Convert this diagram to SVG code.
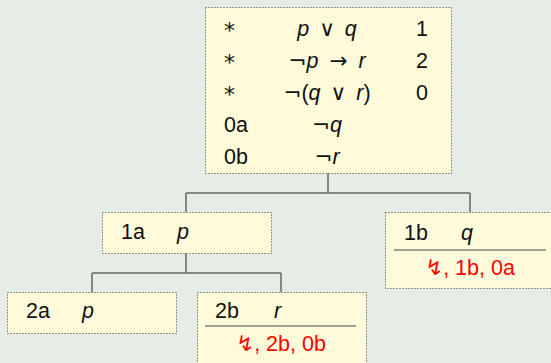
<svg xmlns="http://www.w3.org/2000/svg" width="551" height="363" viewBox="0 0 551 363">
<style>
.bg{fill:#e5ede6}
.box{fill:#fefbdb;stroke:#333;stroke-width:1;stroke-dasharray:1 2}
.t{font-family:"Liberation Sans","DejaVu Sans",sans-serif;font-size:21.5px;fill:#111}
.m{text-anchor:middle}
.i{font-style:italic}
.op{font-family:"DejaVu Sans",sans-serif}
.ast{font-family:"DejaVu Sans",sans-serif;font-size:22px}
.red{fill:#ff0000}
.conn{fill:none;stroke:#666;stroke-width:1.5}
.rule{stroke:#444;stroke-width:1.2}
</style>
<rect class="bg" x="0" y="0" width="551" height="363"/>
<g id="connectors">
<path class="conn" d="M328,173 V193 M186,193 H470 M186,193 V212 M470,193 V212"/>
<path class="conn" d="M186,253 V273 M92,273 H281 M92,273 V292 M281,273 V292"/>
</g>
<g id="root">
<rect class="box" x="205.5" y="7.5" width="246" height="166"/>
<text class="t ast" x="224" y="38">*</text>
<text class="t m" x="327" y="36"><tspan class="i">p</tspan> <tspan class="op" dx="4">∨</tspan> <tspan class="i" dx="4">q</tspan></text>
<text class="t" x="416" y="36">1</text>
<text class="t ast" x="224" y="70">*</text>
<text class="t m" x="327" y="68"><tspan class="op">¬</tspan><tspan class="i">p</tspan> <tspan class="op" dx="5">→</tspan> <tspan class="i" dx="5">r</tspan></text>
<text class="t" x="416" y="68">2</text>
<text class="t ast" x="224" y="102">*</text>
<text class="t m" x="327" y="100"><tspan class="op">¬</tspan>(<tspan class="i">q</tspan> <tspan class="op" dx="4">∨</tspan> <tspan class="i" dx="4">r</tspan>)</text>
<text class="t" x="416" y="100">0</text>
<text class="t" x="224" y="132">0a</text>
<text class="t m" x="327" y="132"><tspan class="op">¬</tspan><tspan class="i">q</tspan></text>
<text class="t" x="224" y="164">0b</text>
<text class="t m" x="327" y="164"><tspan class="op">¬</tspan><tspan class="i">r</tspan></text>
</g>
<g id="n1a">
<rect class="box" x="102.5" y="212.5" width="169" height="41"/>
<text class="t" x="121" y="239">1a</text>
<text class="t i" x="177" y="239">p</text>
</g>
<g id="n1b">
<rect class="box" x="385.5" y="212.5" width="175" height="76"/>
<text class="t" x="404" y="240">1b</text>
<text class="t i" x="461" y="240">q</text>
<line class="rule" x1="394" y1="250" x2="546" y2="250"/>
<text class="t m red" x="470" y="275"><tspan class="op">↯</tspan>, 1b, 0a</text>
</g>
<g id="n2a">
<rect class="box" x="7.5" y="292.5" width="169" height="41"/>
<text class="t" x="26" y="318">2a</text>
<text class="t i" x="82" y="318">p</text>
</g>
<g id="n2b">
<rect class="box" x="197.5" y="292.5" width="169" height="80"/>
<text class="t" x="215" y="318">2b</text>
<text class="t i" x="274" y="318">r</text>
<line class="rule" x1="205" y1="326" x2="356" y2="326"/>
<text class="t m red" x="281" y="351"><tspan class="op">↯</tspan>, 2b, 0b</text>
</g>
</svg>
